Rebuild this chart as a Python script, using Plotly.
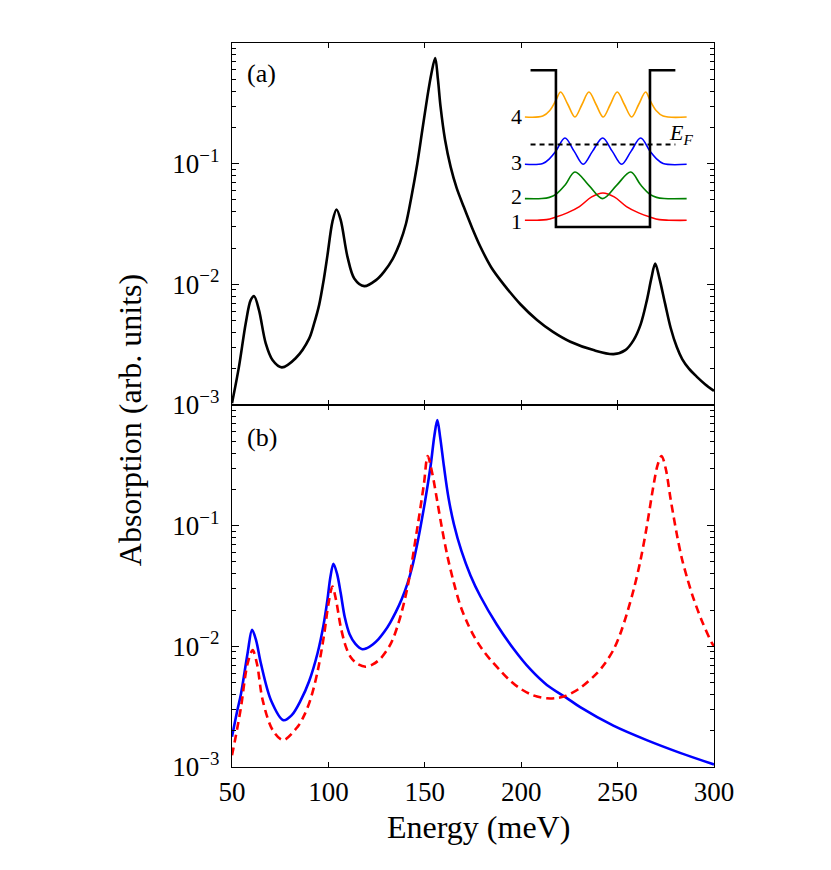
import plotly.graph_objects as go

# ---------------- data ----------------
# panel (a): black solid curve
energy_a = [50, 53.6, 57.1, 59.7, 61.5, 64, 67.5, 71, 75.8, 83, 90, 92.5, 95.2, 97.5, 99.5,
            102.1, 104.2, 106.4, 109.9, 113.4, 118.6, 124.7, 128.8, 133.3, 137, 140.2, 143,
            146.1, 148.7, 151.3, 153.4, 155.4, 156.8, 158.2, 160.5, 163.4, 166.5, 170.2,
            174.5, 178.9, 184.5, 190.9, 199.6, 208.2, 216.5, 225.5, 237.5, 247.9, 254,
            258.3, 262, 265.2, 267.5, 269.5, 271.7, 274.6, 277.5, 280.7, 283.5, 287, 291,
            295.5, 300]
absorption_a = [1.035e-3, 2.07e-3, 4.74e-3, 7.40e-3, 7.98e-3, 6.11e-3, 3.24e-3, 2.36e-3,
                2.05e-3, 2.44e-3, 3.55e-3, 4.68e-3, 6.76e-3, 0.01072, 0.01738, 0.0331, 0.0417,
                0.0340, 0.0169, 0.0112, 9.66e-3, 0.01084, 0.0127, 0.0162, 0.0219, 0.0316,
                0.0525, 0.100, 0.189, 0.356, 0.557, 0.750, 0.501, 0.294, 0.158, 0.094, 0.063,
                0.0439, 0.0295, 0.0204, 0.0138, 0.0100, 6.84e-3, 5.06e-3, 4.03e-3, 3.34e-3,
                2.85e-3, 2.64e-3, 2.85e-3, 3.45e-3, 4.68e-3, 7.40e-3, 0.0112, 0.0149, 0.0112,
                6.95e-3, 4.37e-3, 3.02e-3, 2.40e-3, 2.00e-3, 1.72e-3, 1.48e-3, 1.31e-3]

# panel (b): blue solid curve
energy_b_solid = [50, 52.5, 54.7, 58.1, 60.4, 62.5, 65, 70.2, 76.7, 81, 85.7, 90, 94.4, 97.5,
                  99.5, 101, 102.6, 104.5, 106.4, 108.5, 111, 114, 117.6, 120, 123, 126, 129,
                  132, 135, 138, 141, 143.5, 146.1, 148, 150, 153, 155, 156.5, 158, 159.9,
                  162.3, 165.1, 169, 173.7, 178.8, 187.4, 196, 204.7, 213.3, 223.3, 230.6,
                  247.8, 265.1, 282.4, 300]
absorption_b_solid = [1.78e-3, 2.82e-3, 4.07e-3, 8.8e-3, 0.0137, 0.0112, 7.2e-3, 3.58e-3,
                      2.44e-3, 2.69e-3, 3.58e-3, 5.13e-3, 8.8e-3, 0.0151, 0.0243, 0.0372,
                      0.0484, 0.0398, 0.0275, 0.0174, 0.0126, 0.01047, 9.46e-3, 9.66e-3,
                      0.01035, 0.01148, 0.01318, 0.01567, 0.01928, 0.02455, 0.0331, 0.0457,
                      0.0708, 0.1023, 0.155, 0.312, 0.562, 0.75, 0.537, 0.312, 0.170, 0.1028,
                      0.0617, 0.0387, 0.0260, 0.0151, 9.55e-3, 6.46e-3, 4.79e-3, 3.76e-3,
                      3.13e-3, 2.2e-3, 1.67e-3, 1.31e-3, 1.05e-3]

# panel (b): red dashed curve
energy_b_dashed = [50, 52.5, 54.7, 58, 60.7, 63, 65.9, 71.1, 76.5, 84, 87.5, 90.9, 94.5, 97.8,
                   100, 102.1, 104, 106.4, 109, 111.6, 115, 119.3, 123, 127.1, 132.3, 136.5,
                   140.9, 146.1, 149.5, 151.5, 153.8, 156.5, 159, 161.7, 165, 168.6, 172.5,
                   176, 179.6, 184, 189.1, 194, 199.5, 206, 213.3, 218.5, 223.3, 230.6, 239.2,
                   243.5, 247.8, 251.3, 254.8, 258.5, 261.7, 265, 268.7, 270.7, 272.8, 275,
                   277.5, 280.7, 283.3, 286, 289.3, 294, 298.8, 300]
absorption_b_dashed = [1.25e-3, 2.0e-3, 3.16e-3, 7.1e-3, 9.3e-3, 7.1e-3, 3.58e-3, 2.02e-3,
                       1.67e-3, 2.15e-3, 2.69e-3, 3.72e-3, 6.31e-3, 0.0126, 0.0224, 0.0313,
                       0.0240, 0.01445, 0.0100, 8.13e-3, 7.16e-3, 6.78e-3, 7.08e-3, 7.94e-3,
                       0.01047, 0.01585, 0.0302, 0.0955, 0.219, 0.378, 0.275, 0.158, 0.0933,
                       0.0562, 0.0339, 0.0214, 0.0151, 0.01175, 9.55e-3, 7.76e-3, 6.31e-3,
                       5.25e-3, 4.47e-3, 3.94e-3, 3.71e-3, 3.73e-3, 3.89e-3, 4.52e-3, 5.97e-3,
                       7.24e-3, 9.33e-3, 0.0126, 0.0186, 0.0302, 0.0501, 0.0955, 0.219, 0.316,
                       0.378, 0.295, 0.166, 0.0851, 0.0537, 0.0372, 0.0251, 0.01585, 0.01072,
                       0.0100]

x_ticks = [50, 100, 150, 200, 250, 300]
y_ticks = [1e-3, 1e-2, 1e-1]
y_tick_labels = ["10<sup>\u22123</sup>", "10<sup>\u22122</sup>", "10<sup>\u22121</sup>"]
y_minor = [2e-3, 3e-3, 4e-3, 5e-3, 6e-3, 7e-3, 8e-3, 9e-3,
           2e-2, 3e-2, 4e-2, 5e-2, 6e-2, 7e-2, 8e-2, 9e-2,
           0.2, 0.3, 0.4, 0.5, 0.6, 0.7, 0.8, 0.9]

# inset: quantum well schematic (well width = 1 unit)
well_x = [-0.27, 0, 0, 1, 1, 1.27]
well_y = [1.667, 1.667, 0, 0, 1.667, 1.667]
fermi_x = [-0.27, 1.27]
fermi_y = [0.877, 0.877]

psi4_x = [-0.33, -0.14, -0.065, 0, 0.05, 0.127, 0.202, 0.277, 0.351, 0.427, 0.503, 0.578,
          0.652, 0.728, 0.805, 0.88, 0.954, 1.0, 1.065, 1.14, 1.39]
psi4_y = [1.17, 1.18, 1.24, 1.348, 1.436, 1.303, 1.17, 1.303, 1.436, 1.303, 1.17, 1.303,
          1.436, 1.303, 1.17, 1.303, 1.436, 1.348, 1.24, 1.18, 1.17]
psi3_x = [-0.33, -0.14, -0.065, 0, 0.096, 0.193, 0.29, 0.39, 0.497, 0.598, 0.699, 0.8,
          0.901, 1.0, 1.065, 1.14, 1.39]
psi3_y = [0.667, 0.675, 0.73, 0.807, 0.947, 0.807, 0.667, 0.807, 0.947, 0.807, 0.667, 0.807,
          0.947, 0.807, 0.73, 0.675, 0.667]
psi2_x = [-0.33, -0.15, -0.07, 0, 0.1, 0.202, 0.35, 0.497, 0.645, 0.795, 0.9, 1.0, 1.07,
          1.15, 1.39]
psi2_y = [0.302, 0.303, 0.315, 0.347, 0.449, 0.585, 0.443, 0.302, 0.443, 0.585, 0.449, 0.347,
          0.315, 0.303, 0.302]
psi1_x = [-0.33, -0.2, -0.1, 0, 0.12, 0.25, 0.38, 0.5, 0.62, 0.75, 0.88, 1.0, 1.1, 1.2, 1.39]
psi1_y = [0.071, 0.072, 0.078, 0.106, 0.15, 0.217, 0.32, 0.362, 0.32, 0.217, 0.15, 0.106,
          0.078, 0.072, 0.071]
level_labels = ["4", "3", "2", "1"]
level_label_y = [1.178, 0.681, 0.319, 0.053]

# ---------------- figure ----------------
FONT = "Liberation Serif"
fig = go.Figure()

fig.add_trace(go.Scatter(x=energy_a, y=absorption_a, mode="lines",
                         line=dict(color="black", width=2.6, shape="spline", smoothing=0.9),
                         xaxis="x", yaxis="y", showlegend=False))
fig.add_trace(go.Scatter(x=energy_b_solid, y=absorption_b_solid, mode="lines",
                         line=dict(color="#0000ff", width=2.6, shape="spline", smoothing=0.9),
                         xaxis="x2", yaxis="y2", showlegend=False))
fig.add_trace(go.Scatter(x=energy_b_dashed, y=absorption_b_dashed, mode="lines",
                         line=dict(color="#ff0000", width=2.6, dash="8px,5px",
                                   shape="spline", smoothing=0.9),
                         xaxis="x2", yaxis="y2", showlegend=False))

# inset traces
for xs, ys, col in [(psi1_x, psi1_y, "#ff0000"), (psi2_x, psi2_y, "#008000"),
                    (psi3_x, psi3_y, "#0000ff"), (psi4_x, psi4_y, "#ffa500")]:
    fig.add_trace(go.Scatter(x=xs, y=ys, mode="lines",
                             line=dict(color=col, width=1.6, shape="spline", smoothing=1.0),
                             xaxis="x3", yaxis="y3", showlegend=False))
fig.add_trace(go.Scatter(x=fermi_x, y=fermi_y, mode="lines",
                         line=dict(color="black", width=2, dash="5px,4px"),
                         xaxis="x3", yaxis="y3", showlegend=False))
fig.add_trace(go.Scatter(x=well_x, y=well_y, mode="lines",
                         line=dict(color="black", width=2.6),
                         xaxis="x3", yaxis="y3", showlegend=False))

axis_common = dict(showline=True, linecolor="black", linewidth=1.3, mirror="ticks",
                   ticks="inside", showgrid=False, zeroline=False, tickcolor="black")
xcommon = dict(axis_common, range=[50, 300], tickvals=x_ticks, ticklen=5, tickwidth=1)
ycommon = dict(axis_common, type="log", range=[-3, 0], tickvals=y_ticks,
               ticktext=y_tick_labels, ticklen=7, tickwidth=1, ticklabelstandoff=6,
               tickfont=dict(family=FONT, size=27, color="black"),
               minor=dict(tickvals=y_minor, ticks="inside", ticklen=3.5,
                          tickcolor="black", tickwidth=0.8, showgrid=False))

fig.update_layout(
    width=831, height=870,
    margin=dict(l=224, r=125, t=35, b=111.3),
    paper_bgcolor="white", plot_bgcolor="white",
    font=dict(family=FONT, color="black"),
    xaxis=dict(xcommon, anchor="y", domain=[0, 1], showticklabels=False),
    yaxis=dict(ycommon, anchor="x", domain=[0.5, 1]),
    xaxis2=dict(xcommon, anchor="y2", domain=[0, 1], showticklabels=True,
                tickfont=dict(family=FONT, size=27, color="black")),
    yaxis2=dict(ycommon, anchor="x2", domain=[0, 0.5]),
    xaxis3=dict(domain=[0.555, 0.9647], range=[-0.6, 1.5], visible=False, anchor="y3"),
    yaxis3=dict(domain=[0.7329, 0.9796], range=[-0.1, 1.8], visible=False, anchor="x3"),
)

annotations = [
    dict(text="(a)", x=0.062, y=0.958, xref="paper", yref="paper", showarrow=False,
         xanchor="center", yanchor="middle", font=dict(family=FONT, size=26, color="black")),
    dict(text="(b)", x=0.062, y=0.455, xref="paper", yref="paper", showarrow=False,
         xanchor="center", yanchor="middle", font=dict(family=FONT, size=26, color="black")),
    dict(text="Energy (meV)", x=0.512, y=-0.0833, xref="paper", yref="paper",
         showarrow=False, xanchor="center", yanchor="middle",
         font=dict(family=FONT, size=32, color="black")),
    dict(text="Absorption (arb. units)", x=-0.2116, y=0.479, xref="paper", yref="paper",
         showarrow=False, textangle=-90, xanchor="center", yanchor="middle",
         font=dict(family=FONT, size=32, color="black")),
    dict(text="<i>E</i><sub><i>F</i></sub>", x=1.33, y=0.99, xref="x3", yref="y3",
         showarrow=False, xanchor="center", yanchor="middle",
         font=dict(family=FONT, size=22, color="black")),
]
for lab, ly in zip(level_labels, level_label_y):
    annotations.append(dict(text=lab, x=-0.42, y=ly, xref="x3", yref="y3", showarrow=False,
                            xanchor="center", yanchor="middle",
                            font=dict(family=FONT, size=22, color="black")))
fig.update_layout(annotations=annotations)

fig.write_html("out.html")
